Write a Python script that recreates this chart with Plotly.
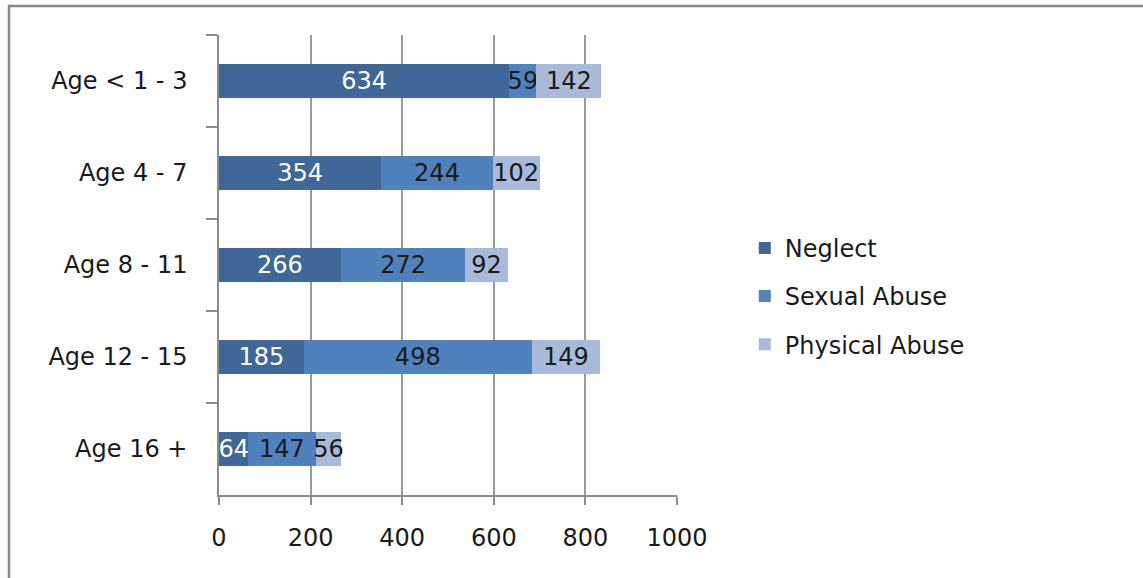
import plotly.graph_objects as go

categories = ["Age < 1 - 3", "Age 4 - 7", "Age 8 - 11", "Age 12 - 15", "Age 16 +"]
neglect = [634, 354, 266, 185, 64]
sexual_abuse = [59, 244, 272, 498, 147]
physical_abuse = [142, 102, 92, 149, 56]
x_ticks = [0, 200, 400, 600, 800, 1000]

FONT = "DejaVu Sans"
FS = 24

series = [
    ("Neglect", neglect, "#3f6899", "white"),
    ("Sexual Abuse", sexual_abuse, "#4f81bd", "#1a1a1a"),
    ("Physical Abuse", physical_abuse, "#a9bad8", "#1a1a1a"),
]

fig = go.Figure()
for name, vals, color, tcolor in series:
    fig.add_trace(go.Bar(
        y=categories, x=vals, name=name, orientation="h",
        marker=dict(color=color, line=dict(width=0)),
        text=vals, texttemplate="%{x}", textposition="inside", textangle=0,
        insidetextanchor="middle", constraintext="none",
        textfont=dict(family=FONT, size=FS, color=tcolor),
        legendgroup=name,
    ))

fig.update_layout(
    barmode="stack",
    bargap=0.62,
    width=1143, height=578,
    margin=dict(l=219, r=466, t=35, b=83),
    paper_bgcolor="white", plot_bgcolor="white",
    font=dict(family=FONT, size=FS, color="#1a1a1a"),
    uniformtext=dict(minsize=FS, mode="show"),
    showlegend=True,
    legend=dict(
        x=1.148, y=0.432, xanchor="left", yanchor="middle",
        traceorder="grouped", tracegroupgap=14,
        font=dict(family=FONT, size=FS, color="#1a1a1a"),
        bgcolor="rgba(0,0,0,0)",
    ),
    xaxis=dict(
        range=[0, 1000], tickvals=x_ticks, ticktext=[str(v) for v in x_ticks],
        showgrid=True, gridcolor="#9a9a9a", gridwidth=1.5,
        showline=True, linecolor="#8c8c8c", linewidth=1.5,
        ticks="outside", ticklen=8, tickcolor="#8c8c8c", tickwidth=1.5,
        ticklabelstandoff=12, zeroline=False,
        tickfont=dict(family=FONT, size=FS, color="#1a1a1a"),
    ),
    yaxis=dict(
        categoryorder="array", categoryarray=categories, autorange="reversed",
        showgrid=False, showline=True, linecolor="#8c8c8c", linewidth=1.5,
        ticks="outside", tickson="boundaries", ticklen=11,
        tickcolor="#8c8c8c", tickwidth=1.5,
        ticklabelstandoff=25,
        tickfont=dict(family=FONT, size=FS, color="#1a1a1a"),
    ),
    shapes=[dict(
        type="rect", xref="paper", yref="paper",
        x0=-0.4585, x1=3, y0=-1, y1=1.063,
        line=dict(color="#8a8a8a", width=2.5), fillcolor="rgba(0,0,0,0)",
        layer="below",
    )],
)

fig.write_html("out.html")
